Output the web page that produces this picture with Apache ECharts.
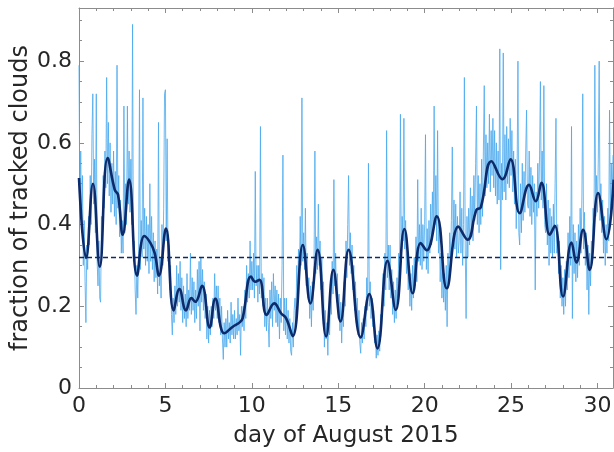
<!DOCTYPE html>
<html>
<head>
<meta charset="utf-8">
<script src="https://cdn.jsdelivr.net/npm/echarts@6/dist/echarts.min.js"></script>
<style>
  html, body { margin: 0; padding: 0; background: #fff; }
  #chart { width: 614px; height: 452px; }
</style>
</head>
<body>
<div id="chart"></div>
<script>
  // raw fraction, one sample every 0.05 day starting at day 0
  var noisyStart = 0
  var noisyStep = 0.05
  var noisyValues = [
    0.79, 0.44, 0.58, 0.38, 0.52, 0.30, 0.41, 0.26, 0.16, 0.35,
    0.29, 0.42, 0.35, 0.52, 0.40, 0.62, 0.72, 0.45, 0.56, 0.38,
    0.72, 0.31, 0.25, 0.36, 0.22, 0.21, 0.42, 0.33, 0.52, 0.44,
    0.58, 0.49, 0.76, 0.50, 0.65, 0.47, 0.60, 0.43, 0.55, 0.45,
    0.58, 0.42, 0.53, 0.40, 0.79, 0.44, 0.52, 0.37, 0.46, 0.33,
    0.41, 0.33, 0.69, 0.38, 0.50, 0.40, 0.69, 0.45, 0.58, 0.43,
    0.56, 0.40, 0.89, 0.31, 0.36, 0.24, 0.18, 0.30, 0.22, 0.33,
    0.73, 0.29, 0.41, 0.32, 0.71, 0.34, 0.44, 0.30, 0.42, 0.31,
    0.40, 0.28, 0.50, 0.31, 0.42, 0.29, 0.38, 0.26, 0.36, 0.27,
    0.34, 0.23, 0.65, 0.25, 0.32, 0.22, 0.40, 0.30, 0.44, 0.72,
    0.73, 0.36, 0.61, 0.31, 0.35, 0.24, 0.30, 0.18, 0.13, 0.22,
    0.16, 0.25, 0.18, 0.30, 0.20, 0.28, 0.21, 0.31, 0.19, 0.27,
    0.16, 0.25, 0.17, 0.23, 0.15, 0.28, 0.17, 0.24, 0.19, 0.33,
    0.18, 0.27, 0.19, 0.26, 0.16, 0.24, 0.17, 0.29, 0.20, 0.31,
    0.14, 0.32, 0.21, 0.29, 0.19, 0.26, 0.17, 0.23, 0.12, 0.20,
    0.11, 0.19, 0.13, 0.20, 0.15, 0.22, 0.17, 0.28, 0.19, 0.25,
    0.17, 0.25, 0.16, 0.22, 0.13, 0.20, 0.12, 0.07, 0.16, 0.10,
    0.17, 0.10, 0.19, 0.12, 0.16, 0.11, 0.21, 0.13, 0.18, 0.12,
    0.19, 0.12, 0.17, 0.13, 0.22, 0.14, 0.18, 0.08, 0.20, 0.15,
    0.20, 0.14, 0.24, 0.17, 0.30, 0.21, 0.28, 0.22, 0.36, 0.24,
    0.31, 0.24, 0.33, 0.22, 0.53, 0.25, 0.30, 0.21, 0.30, 0.23,
    0.64, 0.22, 0.28, 0.20, 0.27, 0.15, 0.22, 0.14, 0.22, 0.16,
    0.10, 0.24, 0.17, 0.26, 0.15, 0.28, 0.19, 0.25, 0.16, 0.24,
    0.15, 0.23, 0.12, 0.22, 0.16, 0.30, 0.57, 0.14, 0.22, 0.13,
    0.22, 0.12, 0.19, 0.11, 0.17, 0.09, 0.08, 0.16, 0.10, 0.19,
    0.22, 0.16, 0.30, 0.21, 0.34, 0.26, 0.42, 0.30, 0.71, 0.31,
    0.38, 0.29, 0.44, 0.25, 0.33, 0.22, 0.27, 0.17, 0.25, 0.15,
    0.26, 0.19, 0.30, 0.58, 0.28, 0.37, 0.29, 0.45, 0.30, 0.36,
    0.24, 0.32, 0.22, 0.26, 0.10, 0.19, 0.12, 0.16, 0.08, 0.18,
    0.13, 0.22, 0.18, 0.31, 0.23, 0.51, 0.25, 0.33, 0.21, 0.28,
    0.17, 0.23, 0.14, 0.21, 0.11, 0.20, 0.15, 0.26, 0.20, 0.36,
    0.27, 0.40, 0.52, 0.30, 0.38, 0.28, 0.35, 0.24, 0.30, 0.19,
    0.26, 0.16, 0.22, 0.13, 0.19, 0.11, 0.085, 0.16, 0.11, 0.17,
    0.12, 0.20, 0.15, 0.27, 0.19, 0.55, 0.20, 0.26, 0.17, 0.22,
    0.15, 0.19, 0.11, 0.14, 0.073, 0.13, 0.08, 0.14, 0.09, 0.18,
    0.14, 0.21, 0.28, 0.20, 0.33, 0.24, 0.63, 0.27, 0.35, 0.24,
    0.35, 0.22, 0.29, 0.18, 0.26, 0.16, 0.24, 0.17, 0.27, 0.22,
    0.33, 0.25, 0.67, 0.31, 0.42, 0.36, 0.66, 0.34, 0.41, 0.28,
    0.33, 0.24, 0.29, 0.20, 0.28, 0.19, 0.30, 0.22, 0.32, 0.25,
    0.37, 0.26, 0.51, 0.31, 0.40, 0.30, 0.44, 0.29, 0.40, 0.31,
    0.40, 0.62, 0.29, 0.39, 0.28, 0.41, 0.33, 0.45, 0.35, 0.48,
    0.38, 0.69, 0.40, 0.52, 0.36, 0.63, 0.33, 0.41, 0.26, 0.33,
    0.22, 0.30, 0.21, 0.28, 0.19, 0.30, 0.15, 0.33, 0.26, 0.38,
    0.32, 0.41, 0.59, 0.36, 0.46, 0.34, 0.45, 0.32, 0.42, 0.33,
    0.36, 0.48, 0.33, 0.44, 0.30, 0.40, 0.76, 0.34, 0.17, 0.42,
    0.32, 0.44, 0.35, 0.49, 0.38, 0.47, 0.36, 0.52, 0.41, 0.55,
    0.69, 0.40, 0.52, 0.38, 0.50, 0.40, 0.56, 0.42, 0.58, 0.74,
    0.47, 0.62, 0.49, 0.60, 0.50, 0.67, 0.48, 0.63, 0.52, 0.66,
    0.49, 0.63, 0.47, 0.60, 0.45, 0.58, 0.46, 0.83, 0.29, 0.55,
    0.46, 0.82, 0.48, 0.62, 0.46, 0.64, 0.50, 0.61, 0.49, 0.66,
    0.52, 0.63, 0.48, 0.58, 0.45, 0.56, 0.39, 0.52, 0.80, 0.38,
    0.35, 0.50, 0.38, 0.55, 0.41, 0.53, 0.43, 0.58, 0.68, 0.45,
    0.44, 0.58, 0.42, 0.54, 0.40, 0.52, 0.43, 0.50, 0.24, 0.48,
    0.42, 0.55, 0.44, 0.57, 0.75, 0.46, 0.58, 0.44, 0.74, 0.40,
    0.38, 0.50, 0.35, 0.46, 0.30, 0.44, 0.33, 0.42, 0.32, 0.45,
    0.33, 0.50, 0.66, 0.33, 0.40, 0.28, 0.36, 0.22, 0.30, 0.20,
    0.27, 0.18, 0.29, 0.20, 0.31, 0.24, 0.38, 0.27, 0.42, 0.30,
    0.64, 0.17, 0.40, 0.28, 0.38, 0.26, 0.36, 0.27, 0.40, 0.30,
    0.44, 0.33, 0.47, 0.72, 0.34, 0.43, 0.30, 0.38, 0.24, 0.35,
    0.18, 0.33, 0.25, 0.36, 0.31, 0.44, 0.38, 0.79, 0.42, 0.52,
    0.43, 0.56, 0.80, 0.41, 0.50, 0.38, 0.46, 0.33, 0.42, 0.30,
    0.40, 0.33, 0.44, 0.36, 0.68, 0.43, 0.55, 0.46, 0.57
  ]

  // smoothed curve, turning points
  var smoothDays = [
    0, 0.41, 0.81, 1.2, 1.66, 2.07, 2.26, 2.53, 2.9, 3.36, 3.78, 4.13, 4.38, 4.63,
    5.03, 5.48, 5.81, 6.19, 6.5, 6.73, 7.12, 7.56, 7.89, 8.41, 8.9, 9.28, 9.47,
    9.95, 10.2, 10.44, 10.86, 11.3, 11.69, 11.98, 12.37, 12.95, 13.39, 13.81,
    14.3, 14.72, 15.13, 15.6, 16.3, 16.8, 17.27, 17.85, 18.33, 18.83, 19.31,
    19.77, 20.12, 20.7, 21.28, 21.95, 22.48, 23.0, 23.25, 23.87, 24.5, 24.97,
    25.5, 26.04, 26.43, 26.76, 27.24, 27.53, 28.01, 28.5, 28.78, 29.17, 29.55,
    30.04, 30.52, 30.94
  ]
  var smoothValues = [
    0.514, 0.318, 0.50, 0.297, 0.563, 0.485, 0.473, 0.375, 0.51, 0.275, 0.372, 0.355, 0.33, 0.275,
    0.39, 0.19, 0.242, 0.19, 0.22, 0.211, 0.25, 0.148, 0.218, 0.134, 0.15, 0.16, 0.171,
    0.273, 0.26, 0.265, 0.179, 0.207, 0.183, 0.171, 0.127, 0.35, 0.207, 0.338,
    0.126, 0.289, 0.163, 0.338, 0.124, 0.23, 0.097, 0.311, 0.191, 0.389, 0.232,
    0.355, 0.337, 0.42, 0.244, 0.395, 0.363, 0.436, 0.442, 0.555, 0.511, 0.56,
    0.428, 0.497, 0.457, 0.502, 0.375, 0.397, 0.224, 0.356, 0.307, 0.387, 0.289,
    0.477, 0.364, 0.51
  ]

  var meanValue = 0.318

  var xMin = 0, xMax = 30.9, xStep = 5
  var yMin = 0, yMax = 0.93, yStep = 0.2

  var noisyData = noisyValues.map(function (v, i) {
    return [+(noisyStart + i * noisyStep).toFixed(2), v]
  })
  var smoothData = smoothDays.map(function (d, i) {
    return [d, smoothValues[i]]
  })

  var boxColor = '#8c8c8c'
  var textColor = '#262626'
  var fontFamily = 'DejaVu Sans'

  function boxAxis(base) {
    return Object.assign({
      type: 'value',
      axisLine: { show: true, onZero: false, lineStyle: { color: boxColor, width: 1 } },
      axisTick: { show: true, inside: true, length: 5, lineStyle: { color: boxColor } },
      splitLine: { show: false },
      minorSplitLine: { show: false },
      nameMoveOverlap: false
    }, base)
  }

  var myChart = echarts.init(document.getElementById('chart'), null, { renderer: 'canvas' })
  var option = {
    animation: false,
    backgroundColor: '#fff',
    textStyle: { fontFamily: fontFamily },
    grid: { left: 79, right: 1, top: 8, bottom: 64, containLabel: false, outerBoundsMode: 'none' },
    xAxis: [
      boxAxis({
        min: xMin, max: xMax, interval: xStep,
        position: 'bottom',
        minorTick: { show: true, splitNumber: 5, length: 3, lineStyle: { color: boxColor } },
        name: 'day of August 2015',
        nameLocation: 'middle',
        nameGap: 37,
        nameTextStyle: { fontSize: 23, color: textColor, fontFamily: fontFamily },
        axisLabel: { fontSize: 22, color: textColor, margin: 7, showMaxLabel: false, fontFamily: fontFamily }
      }),
      boxAxis({
        min: xMin, max: xMax, interval: xStep,
        position: 'top',
        minorTick: { show: true, splitNumber: 5, length: 3, lineStyle: { color: boxColor } },
        axisLabel: { show: false }
      })
    ],
    yAxis: [
      boxAxis({
        min: yMin, max: yMax, interval: yStep,
        position: 'left',
        minorTick: { show: true, splitNumber: 4, length: 3, lineStyle: { color: boxColor } },
        name: 'fraction of tracked clouds',
        nameLocation: 'middle',
        nameGap: 46,
        nameTextStyle: { fontSize: 24, color: textColor, fontFamily: fontFamily },
        axisLabel: { fontSize: 22, color: textColor, margin: 7, showMaxLabel: false, fontFamily: fontFamily }
      }),
      boxAxis({
        min: yMin, max: yMax, interval: yStep,
        position: 'right',
        minorTick: { show: true, splitNumber: 4, length: 3, lineStyle: { color: boxColor } },
        axisLabel: { show: false }
      })
    ],
    series: [
      {
        type: 'line',
        data: noisyData,
        symbol: 'none',
        lineStyle: { color: '#4aa9ee', width: 1, opacity: 0.8 },
        z: 1
      },
      {
        type: 'line',
        data: smoothData,
        symbol: 'none',
        smooth: 0.45,
        lineStyle: { color: '#0d2a6a', width: 2.6 },
        z: 3,
        markLine: {
          silent: true,
          symbol: 'none',
          label: { show: false },
          lineStyle: { color: '#0d2a6a', type: [5, 3], width: 1.3 },
          data: [{ yAxis: meanValue }]
        }
      }
    ]
  }
  myChart.setOption(option)
</script>
</body>
</html>
